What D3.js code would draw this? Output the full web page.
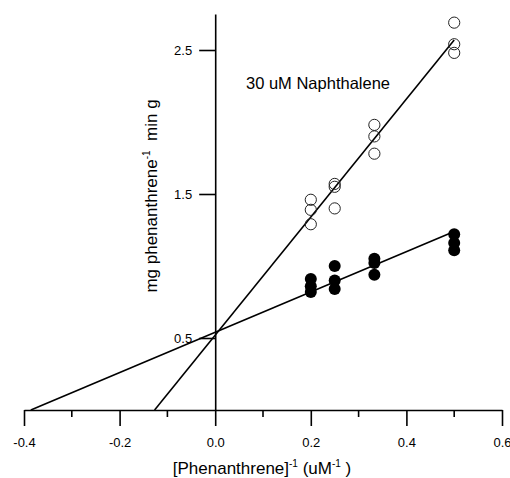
<!DOCTYPE html>
<html>
<head>
<meta charset="utf-8">
<script src="https://cdn.jsdelivr.net/npm/d3@7"></script>
<style>
  body { margin: 0; background: #fff; }
  svg { display: block; font-family: "Liberation Sans", Arial, sans-serif; }
</style>
</head>
<body>
<div id="chart"></div>
<script>
// 1/[phenanthrene] values (uM^-1)
const invConc = [0.2, 0.25, 0.333, 0.5];
// replicate rates, open circles (with 30 uM naphthalene)
const openRates = [
  [1.46, 1.39, 1.29],
  [1.57, 1.55, 1.40],
  [1.98, 1.90, 1.78],
  [2.69, 2.54, 2.48]
];
// replicate rates, filled circles (no naphthalene)
const filledRates = [
  [0.91, 0.86, 0.82],
  [1.00, 0.90, 0.84],
  [1.05, 1.02, 0.94],
  [1.22, 1.16, 1.11]
];
// fitted lines: [open, filled]
const fitSlope = [4.1, 1.40];
const fitIntercept = [0.52, 0.54];
const xMajorTicks = [-0.4, -0.2, 0.0, 0.2, 0.4, 0.6];
const xMinorTicks = [-0.3, -0.1, 0.1, 0.3, 0.5];
const yTicks = [0.5, 1.5, 2.5];

const width = 510, height = 478;

const x = d3.scaleLinear().domain([-0.4, 0.6]).range([24, 502]);
const y = d3.scaleLinear().domain([0, 2.75]).range([410, 14]);

const svg = d3.select("#chart").append("svg")
    .attr("width", width)
    .attr("height", height);

// x axis
const xAxis = svg.append("g")
    .attr("transform", `translate(0,${y(0)})`)
    .call(d3.axisBottom(x).tickValues(xMajorTicks).tickSize(16).tickSizeOuter(0)
      .tickFormat(d => d.toFixed(1)));
xAxis.select(".domain").attr("stroke-width", 1.6);
xAxis.selectAll(".tick line").attr("stroke-width", 1.6);
xAxis.selectAll(".tick text")
    .attr("y", 28)
    .attr("font-size", 13)
    .attr("font-family", "Liberation Sans, Arial, sans-serif");

svg.append("g")
    .attr("transform", `translate(0,${y(0)})`)
  .selectAll("line")
  .data(xMinorTicks)
  .join("line")
    .attr("x1", d => x(d)).attr("x2", d => x(d))
    .attr("y1", 0).attr("y2", 7)
    .attr("stroke", "#000")
    .attr("stroke-width", 1.6);

// y axis at x = 0
const yAxis = svg.append("g")
    .attr("transform", `translate(${x(0)},0)`)
    .call(d3.axisLeft(y).tickValues(yTicks).tickSize(16).tickSizeOuter(0).tickPadding(7)
      .tickFormat(d => d.toFixed(1)));
yAxis.select(".domain").attr("stroke-width", 1.6);
yAxis.selectAll(".tick line").attr("stroke-width", 1.6);
yAxis.selectAll(".tick text")
    .attr("font-size", 13)
    .attr("font-family", "Liberation Sans, Arial, sans-serif");

// fitted lines, from x-intercept to last concentration
const line = d3.line().x(d => x(d[0])).y(d => y(d[1]));
fitSlope.forEach((m, i) => {
  const b = fitIntercept[i];
  const x0 = -b / m, x1 = d3.max(invConc);
  svg.append("path")
      .attr("d", line([[x0, 0], [x1, m * x1 + b]]))
      .attr("fill", "none")
      .attr("stroke", "#000")
      .attr("stroke-width", 1.6);
});

// points
const openPts = invConc.flatMap((c, i) => openRates[i].map(v => [c, v]));
const filledPts = invConc.flatMap((c, i) => filledRates[i].map(v => [c, v]));

svg.append("g").selectAll("circle")
  .data(openPts)
  .join("circle")
    .attr("cx", d => x(d[0]))
    .attr("cy", d => y(d[1]))
    .attr("r", 5.6)
    .attr("fill", "none")
    .attr("stroke", "#222")
    .attr("stroke-width", 1);

svg.append("g").selectAll("circle")
  .data(filledPts)
  .join("circle")
    .attr("cx", d => x(d[0]))
    .attr("cy", d => y(d[1]))
    .attr("r", 6)
    .attr("fill", "#000");

// annotation
svg.append("text")
    .attr("x", 246)
    .attr("y", 89)
    .attr("font-size", 16.5)
    .text("30 uM Naphthalene");

// axis titles
const xt = svg.append("text")
    .attr("x", 262)
    .attr("y", 474)
    .attr("text-anchor", "middle")
    .attr("font-size", 17);
xt.append("tspan").text("[Phenanthrene]");
xt.append("tspan").attr("font-size", 10).attr("dy", -7).text("-1");
xt.append("tspan").attr("dy", 7).text(" (uM");
xt.append("tspan").attr("font-size", 10).attr("dy", -7).text("-1");
xt.append("tspan").attr("dy", 7).text(" )");

const yt = svg.append("text")
    .attr("transform", "translate(157,196) rotate(-90)")
    .attr("text-anchor", "middle")
    .attr("font-size", 17);
yt.append("tspan").text("mg phenanthrene");
yt.append("tspan").attr("font-size", 10).attr("dy", -7).text("-1");
yt.append("tspan").attr("dy", 7).attr("xml:space", "preserve").text("  min g");
</script>
</body>
</html>
